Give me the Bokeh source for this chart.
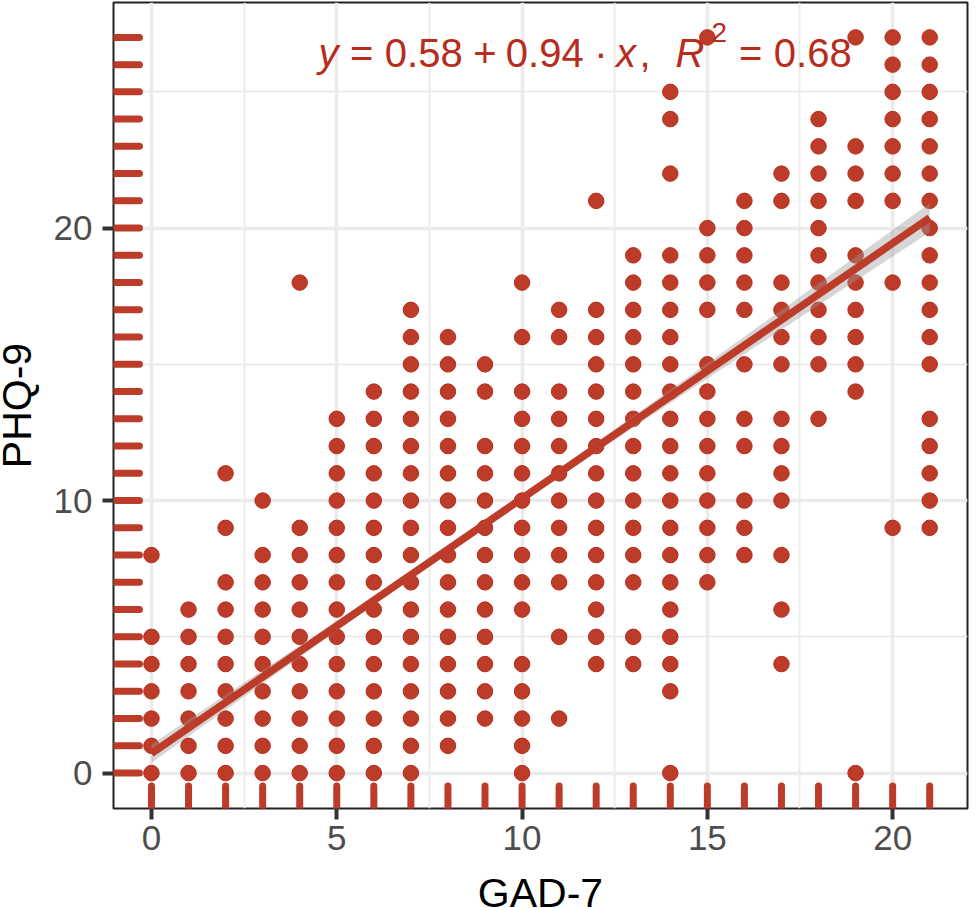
from math import pi

from bokeh.core.properties import value
from bokeh.embed import file_html
from bokeh.models import FixedTicker, Label, Range1d
from bokeh.plotting import figure
from bokeh.resources import INLINE

# PHQ-9 scores seen at each GAD-7 score
gad_scores = list(range(22))
phq_by_gad = [
    [0, 1, 2, 3, 4, 5, 8],
    [0, 1, 2, 3, 4, 5, 6],
    [0, 1, 2, 3, 4, 5, 6, 7, 9, 11],
    [0, 1, 2, 3, 4, 5, 6, 7, 8, 10],
    [0, 1, 2, 3, 4, 5, 6, 7, 8, 9, 18],
    [0, 1, 2, 3, 4, 5, 6, 7, 8, 9, 10, 11, 12, 13],
    [0, 1, 2, 3, 4, 5, 6, 7, 8, 9, 10, 11, 12, 13, 14],
    [0, 1, 2, 3, 4, 5, 6, 7, 8, 9, 10, 11, 12, 13, 14, 15, 16, 17],
    [1, 2, 3, 4, 5, 6, 7, 8, 9, 10, 11, 12, 13, 14, 15, 16],
    [2, 3, 4, 5, 6, 7, 8, 9, 10, 11, 12, 14, 15],
    [0, 1, 2, 3, 4, 6, 7, 8, 9, 10, 11, 12, 13, 14, 16, 18],
    [2, 5, 7, 8, 9, 10, 11, 12, 13, 14, 16, 17],
    [4, 5, 6, 7, 8, 9, 10, 11, 12, 13, 14, 15, 16, 17, 21],
    [4, 5, 7, 8, 9, 10, 11, 12, 13, 14, 15, 16, 17, 18, 19],
    [0, 3, 4, 5, 6, 7, 8, 9, 10, 11, 12, 13, 14, 15, 16, 17, 18, 19, 22, 24, 25],
    [7, 8, 9, 10, 11, 12, 13, 14, 15, 17, 18, 19, 20, 27],
    [8, 9, 10, 12, 13, 15, 17, 18, 19, 20, 21],
    [4, 6, 8, 10, 11, 12, 13, 15, 16, 17, 18, 21, 22],
    [13, 15, 16, 17, 18, 19, 20, 21, 22, 23, 24],
    [0, 14, 15, 16, 17, 18, 19, 21, 22, 23, 27],
    [9, 18, 21, 22, 23, 24, 25, 26, 27],
    [9, 10, 11, 12, 13, 15, 16, 17, 18, 19, 20, 21, 22, 23, 24, 25, 26, 27],
]

# fitted line and its confidence band
fit_x = [0, 21]
fit_y = [0.72, 20.38]
band_x = [0, 3, 6, 9, 12, 15, 18, 21]
band_mid = [0.72, 3.53, 6.34, 9.15, 11.95, 14.76, 17.57, 20.38]
band_half = [0.34, 0.24, 0.16, 0.14, 0.18, 0.28, 0.40, 0.53]

x_ticks = [0, 5, 10, 15, 20]
x_minor = [2.5, 7.5, 12.5, 17.5]
y_ticks = [0, 10, 20]
y_minor = [5, 15, 25]

RED = "#BC3C29"
EDGE = "#B82C1C"
TEXT_RED = "#B92B1B"
FONT = "Liberation Sans"
X_MIN, X_MAX = -1.025, 22.02
Y_MIN, Y_MAX = -1.3, 28.28

xs = [g for g, col in zip(gad_scores, phq_by_gad) for _ in col]
ys = [v for col in phq_by_gad for v in col]
rug_y = sorted(set(ys))

p = figure(
    width=976, height=908, output_backend="svg", toolbar_location=None,
    x_range=Range1d(X_MIN, X_MAX), y_range=Range1d(Y_MIN, Y_MAX),
    min_border_left=113, min_border_right=9, min_border_top=2, min_border_bottom=100,
)
p.background_fill_color = "white"
p.outline_line_color = "#222222"
p.outline_line_width = 2
p.outline_line_alpha = 1

for axis, ticks in ((p.xaxis[0], x_ticks), (p.yaxis[0], y_ticks)):
    axis.ticker = FixedTicker(ticks=ticks)
    axis.axis_line_color = None
    axis.major_tick_in = 0
    axis.major_tick_out = 11
    axis.major_tick_line_color = "#333333"
    axis.major_tick_line_width = 4
    axis.minor_tick_line_color = None
    axis.major_label_text_font = FONT
    axis.major_label_text_font_size = "35px"
    axis.major_label_text_color = "#4D4D4D"
p.xaxis[0].major_label_standoff = 6
p.yaxis[0].major_label_standoff = 10
p.yaxis[0].major_label_orientation = "horizontal"

p.xgrid[0].ticker = FixedTicker(ticks=x_ticks, minor_ticks=x_minor)
p.ygrid[0].ticker = FixedTicker(ticks=y_ticks, minor_ticks=y_minor)
for grid in (p.xgrid[0], p.ygrid[0]):
    grid.grid_line_color = "#EBEBEB"
    grid.grid_line_width = 3.6
    grid.minor_grid_line_color = "#EBEBEB"
    grid.minor_grid_line_width = 1.9

# rugs along the left and bottom edges
p.segment(x0=[X_MIN] * len(rug_y), x1=[X_MIN + 0.70] * len(rug_y), y0=rug_y, y1=rug_y,
          line_color=RED, line_width=7, line_cap="round")
p.segment(x0=gad_scores, x1=gad_scores, y0=[Y_MIN] * len(gad_scores), y1=[Y_MIN + 0.83] * len(gad_scores),
          line_color=RED, line_width=7, line_cap="round")

p.scatter(xs, ys, size=15.5, fill_color=RED, line_color=EDGE, line_width=1)

upper = [m + h for m, h in zip(band_mid, band_half)]
lower = [m - h for m, h in zip(band_mid, band_half)]
p.varea(x=band_x, y1=lower, y2=upper, fill_color="#999999", fill_alpha=0.4)
p.line(fit_x, fit_y, line_color=RED, line_width=7.5)


def px_to_x(px):
    return X_MIN + (px - 113) / (967 - 113) * (X_MAX - X_MIN)


def py_to_y(py):
    return Y_MIN + (808 - py) / (808 - 2) * (Y_MAX - Y_MIN)


# axis titles sit closer to the edges than an axis' own label would let them,
# and a Label gets clipped to the frame, so these are overlay text glyphs
p.text([px_to_x(540)], [py_to_y(892)], text=["GAD-7"], level="overlay", text_font=value(FONT),
       text_font_size=value("41px"), text_color="black", text_align="center", text_baseline="middle")
p.text([px_to_x(16.5)], [py_to_y(405)], text=["PHQ-9"], angle=pi / 2, level="overlay", text_font=value(FONT),
       text_font_size=value("41px"), text_color="black", text_align="center", text_baseline="middle")

# equation, placed piece by piece because of the italics and the superscript
equation = [
    ("y", 318, "italic", 40, 52),
    ("=", 349.5, "normal", 40, 52),
    ("0.58", 384.3, "normal", 40, 52),
    ("+", 472.8, "normal", 40, 52),
    ("0.94", 505.3, "normal", 40, 52),
    ("·", 593.8, "normal", 40, 52),
    ("x", 615.5, "italic", 40, 52),
    (",", 639, "normal", 40, 52),
    ("R", 675, "italic", 40, 52),
    ("2", 711, "normal", 28, 32),
    ("=", 738.5, "normal", 40, 52),
    ("0.68", 773.3, "normal", 40, 52),
]
for text, px, style, size, baseline in equation:
    p.add_layout(Label(
        x=px_to_x(px), y=py_to_y(baseline), text=text, text_font=FONT, text_font_style=style,
        text_font_size=f"{size}px", text_color=TEXT_RED, text_baseline="alphabetic",
    ))

open("out.html", "w").write(file_html(p, INLINE))
